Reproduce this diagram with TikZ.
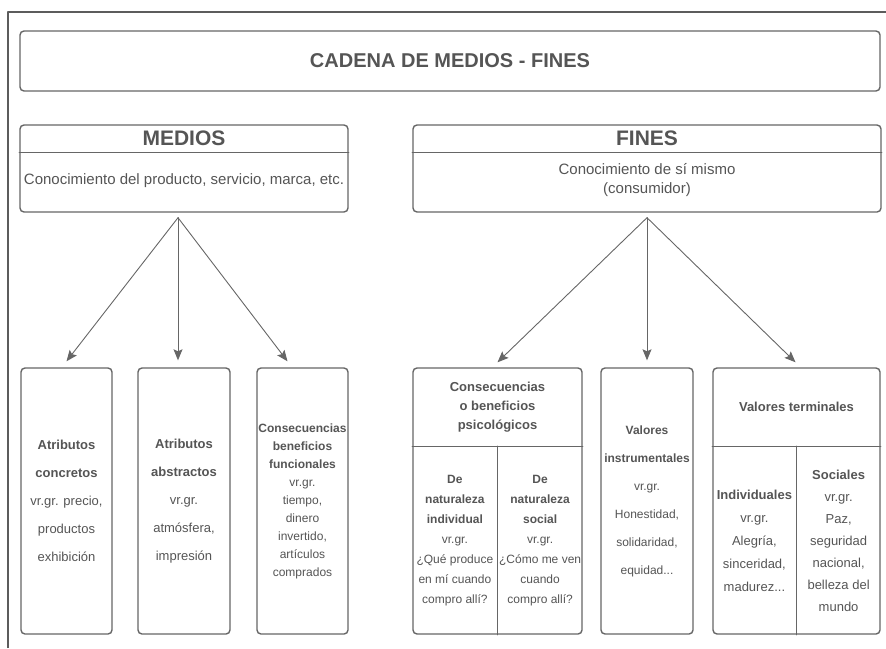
\documentclass[tikz,border=0pt]{standalone}
\usepackage{fontspec}
\setmainfont{Liberation Sans}
\usetikzlibrary{arrows.meta,calc,positioning}
\definecolor{LineGray}{HTML}{666666}
\definecolor{InkGray}{HTML}{555555}
\colorlet{FrameGray}{LineGray!90!black}

\begin{document}
\begin{tikzpicture}[x=1pt,y=-1pt,line cap=round,line join=round,
    box/.style={draw=LineGray,line width=1.4pt,rounded corners=4pt,fill=white,
      inner sep=0pt,text=InkGray,align=center},
    rule/.style={draw=LineGray,line width=1.4pt},
    link/.style={draw=LineGray,line width=0.9pt,
      -{Stealth[length=11pt,width=9pt,inset=2pt]}},
    txt/.style={text=InkGray,align=center,inner sep=0pt}]
  \useasboundingbox (0,0) rectangle (886,648);
  \draw[FrameGray,line width=1.6pt,line cap=butt] (8,648) -- (8,12) -- (886,12);
  \node[box,minimum width=860,minimum height=60,
        font=\bfseries\fontsize{20}{24}\selectfont] (cadena) at (450,61)
    {CADENA DE MEDIOS - FINES};
  % medios
  \node[box,minimum width=328,minimum height=87] (medios) at (184,168.5) {};
  \coordinate (mediosL) at ([yshift=-28pt]medios.north west);
  \coordinate (mediosR) at ([yshift=-28pt]medios.north east);
  \draw[rule] (mediosL) -- (mediosR);
  \node[txt,font=\bfseries\fontsize{21}{24}\selectfont] (mediosHead)
    at ($(medios.north)!0.5!($(mediosL)!0.5!(mediosR)$)$) {MEDIOS};
  \node[txt,font=\fontsize{15}{19}\selectfont] (mediosText)
    at ([yshift=2pt]$($(mediosL)!0.5!(mediosR)$)!0.5!(medios.south)$)
    {Conocimiento del producto, servicio, marca, etc.};
  % fines
  \node[box,minimum width=468,minimum height=87] (fines) at (647,168.5) {};
  \coordinate (finesL) at ([yshift=-28pt]fines.north west);
  \coordinate (finesR) at ([yshift=-28pt]fines.north east);
  \draw[rule] (finesL) -- (finesR);
  \node[txt,font=\bfseries\fontsize{21}{24}\selectfont] (finesHead)
    at ($(fines.north)!0.5!($(finesL)!0.5!(finesR)$)$) {FINES};
  \node[txt,font=\fontsize{15}{19}\selectfont] (finesText)
    at ([yshift=2pt]$($(finesL)!0.5!(finesR)$)!0.5!(fines.south)$)
    {Conocimiento de sí mismo\\(consumidor)};
  % medios: bottom row
  \node[box,minimum width=91,minimum height=266,
        font=\fontsize{13}{28}\selectfont] (concretos) at (66.5,501)
    {\textbf{Atributos}\\\textbf{concretos}\\vr.gr. precio,\\productos\\exhibición};
  \node[box,minimum width=92,minimum height=266,
        font=\fontsize{13}{28}\selectfont] (abstractos) at (184,501)
    {\textbf{Atributos}\\\textbf{abstractos}\\vr.gr.\\atmósfera,\\impresión};
  \node[box,minimum width=91,minimum height=266,
        font=\fontsize{12}{18}\selectfont] (funcionales) at (302.5,501)
    {\textbf{Consecuencias}\\\textbf{beneficios}\\\textbf{funcionales}\\vr.gr.\\tiempo,\\dinero\\invertido,\\artículos\\comprados};
  % fines: bottom row
  \node[box,minimum width=169,minimum height=266] (psico) at (497.5,501) {};
  \coordinate (psicoL) at ([yshift=-79pt]psico.north west);
  \coordinate (psicoM) at ([yshift=-79pt]psico.north);
  \coordinate (psicoR) at ([yshift=-79pt]psico.north east);
  \draw[rule] (psicoL) -- (psicoR) (psicoM) -- (psico.south);
  \node[txt,font=\bfseries\fontsize{13}{19}\selectfont] (psicoHead)
    at ($(psico.north)!0.5!(psicoM)$) {Consecuencias\\o beneficios\\psicológicos};
  \node[txt,font=\fontsize{12}{20}\selectfont] (psicoInd)
    at ($(psicoL)!0.5!(psico.south)$)
    {\textbf{De}\\\textbf{naturaleza}\\\textbf{individual}\\vr.gr.\\¿Qué produce\\en mí cuando\\compro allí?};
  \node[txt,font=\fontsize{12}{20}\selectfont] (psicoSoc)
    at ($(psicoM)!0.5!(psico.south east)$)
    {\textbf{De}\\\textbf{naturaleza}\\\textbf{social}\\vr.gr.\\¿Cómo me ven\\cuando\\compro allí?};
  \node[box,minimum width=92,minimum height=266,
        font=\fontsize{12}{28}\selectfont] (instrum) at (647,501)
    {\textbf{Valores}\\\textbf{instrumentales}\\vr.gr.\\Honestidad,\\solidaridad,\\equidad...};
  \node[box,minimum width=167,minimum height=266] (termin) at (796.5,501) {};
  \coordinate (terminL) at ([yshift=-79pt]termin.north west);
  \coordinate (terminM) at ([yshift=-79pt]termin.north);
  \coordinate (terminR) at ([yshift=-79pt]termin.north east);
  \draw[rule] (terminL) -- (terminR) (terminM) -- (termin.south);
  \node[txt,font=\bfseries\fontsize{13}{19}\selectfont] (terminHead)
    at ($(termin.north)!0.5!(terminM)$) {Valores terminales};
  \node[txt,font=\fontsize{13}{23}\selectfont] (terminInd)
    at ($(terminL)!0.5!(termin.south)$)
    {\textbf{Individuales}\\vr.gr.\\Alegría,\\sinceridad,\\madurez...};
  \node[txt,font=\fontsize{13}{22}\selectfont] (terminSoc)
    at ($(terminM)!0.5!(termin.south east)$)
    {\textbf{Sociales}\\vr.gr.\\Paz,\\seguridad\\nacional,\\belleza del\\mundo};
  % arrows
  \coordinate (mApex) at ([xshift=-6pt,yshift=-5pt]medios.south);
  \coordinate (fApex) at ([yshift=-5pt]fines.south);
  \coordinate (toConcretos) at ([yshift=6pt]concretos.north);
  \coordinate (toAbstractos) at ([xshift=-6pt,yshift=7pt]abstractos.north);
  \coordinate (toFuncionales) at ([xshift=-15pt,yshift=6pt]funcionales.north);
  \coordinate (toPsico) at ([yshift=5pt]psico.north);
  \coordinate (toInstrum) at ([yshift=7pt]instrum.north);
  \coordinate (toTermin) at ([xshift=-1pt,yshift=5pt]termin.north);
  \foreach \t in {toConcretos,toAbstractos,toFuncionales}
    \draw[link] (mApex) -- (\t);
  \foreach \t in {toPsico,toInstrum,toTermin}
    \draw[link] (fApex) -- (\t);
\end{tikzpicture}
\end{document}
